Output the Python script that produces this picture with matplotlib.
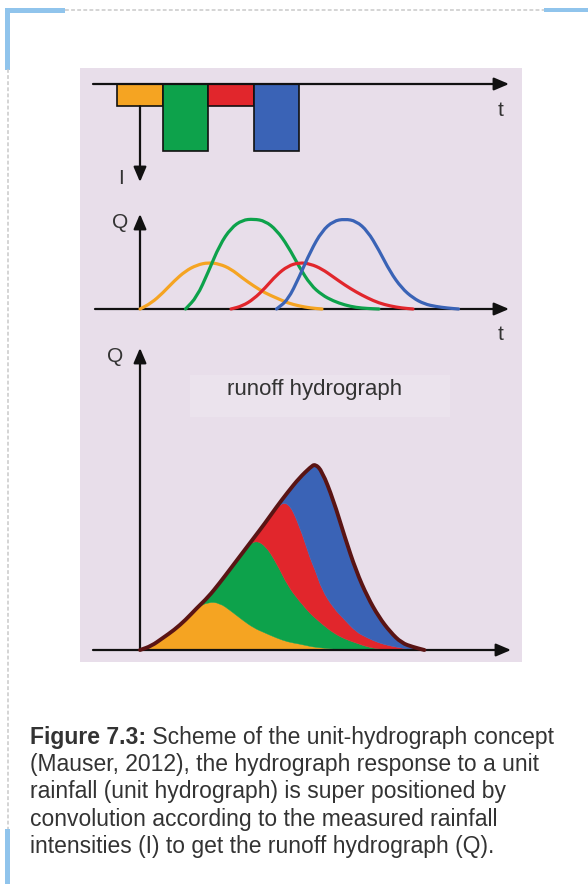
import numpy as np
import matplotlib.pyplot as plt
from matplotlib.patches import Rectangle, PathPatch
from matplotlib.path import Path

# ---------------------------------------------------------
# Unit hydrograph scheme: rainfall blocks -> unit responses -> runoff
# ---------------------------------------------------------

# rainfall blocks (time in units of one rainfall interval)
rain_t = [0, 1, 2, 3]
rain_i = [1.0, 3.0, 1.0, 3.0]
colors = ["#F5A422", "#0DA24B", "#E1262C", "#3A63B6"]

# single responses (middle panel)
orange_t = [0, 0.25, 0.5, 0.75, 1.0, 1.25, 1.5, 1.75, 2.0, 2.25, 2.5, 2.75, 3.0, 3.25, 3.5, 3.75, 4.0]
orange_q = [0, 6, 16, 28, 38, 44, 46.5, 45, 40, 31, 23, 16, 11, 6, 3, 1, 0]
green_t = [1.0, 1.25, 1.5, 1.75, 2.0, 2.25, 2.5, 2.75, 3.0, 3.25, 3.5, 3.75, 4.0, 4.25, 4.5, 4.75, 5.0, 5.25]
green_q = [0, 12, 37, 64, 81, 89, 90, 88, 79, 63, 42, 24, 14, 8, 4, 1.5, 0.5, 0]
red_t = [2.0, 2.25, 2.5, 2.75, 3.0, 3.25, 3.5, 3.75, 4.0, 4.25, 4.5, 4.75, 5.0, 5.25, 5.5, 5.75, 6.0]
red_q = [0, 3, 10, 21, 34, 43, 46.5, 45, 40, 32, 24, 17, 11, 6, 3, 1, 0]
blue_t = [3.0, 3.25, 3.5, 3.75, 4.0, 4.25, 4.5, 4.75, 5.0, 5.25, 5.5, 5.75, 6.0, 6.25, 6.5, 6.75, 7.0]
blue_q = [0, 9, 32, 58, 78, 88, 90, 88, 78, 59, 37, 21, 11, 5, 2.5, 1, 0]

# runoff hydrograph (bottom panel), cumulative layer tops
runoff_t = [0, 0.25, 0.5, 0.75, 1.0, 1.25, 1.5, 1.75, 2.0, 2.25, 2.5, 2.75, 3.0, 3.25,
            3.5, 3.75, 3.85, 4.0, 4.25, 4.5, 4.75, 5.0, 5.25, 5.5, 5.75, 6.0, 6.25]
top_orange = [0, 4, 12, 20, 30, 42, 48, 47, 39, 30, 22, 17, 12, 8, 6, 3.5, 2.8, 2, 1, 0, 0, 0, 0, 0, 0, 0, 0]
top_green = [0, 4, 12, 20, 30, 42, 53, 67, 82, 97, 110, 105, 87, 64, 49, 36, 32, 26, 17, 11, 7, 3, 1, 0, 0, 0, 0]
top_red = [0, 4, 12, 20, 30, 42, 53, 67, 82, 97, 112, 127, 143, 149, 125, 90, 80, 60, 42, 30, 18, 12, 7, 4, 2, 0, 0]
top_total = [0, 4, 12, 20, 30, 42, 53, 67, 82, 97, 112, 127, 143, 158, 172, 183, 186, 179, 150, 113, 79, 53, 33, 18, 7, 3, 0]

caption_lines = [
    "(Mauser, 2012), the hydrograph response to a unit",
    "rainfall (unit hydrograph) is super positioned by",
    "convolution according to the measured rainfall",
    "intensities (I) to get the runoff hydrograph (Q).",
]

W, H = 588, 884
fig = plt.figure(figsize=(W / 100, H / 100), dpi=100)
fig.patch.set_facecolor("white")

# pixel canvas for frame, panel and caption
base = fig.add_axes([0, 0, 1, 1])
base.set_xlim(0, W)
base.set_ylim(H, 0)
base.axis("off")

frame_blue = "#90C4EC"
dash_grey = "#C9C9C9"
base.plot([65, 544], [10, 10], color=dash_grey, lw=1.1, dashes=(2.5, 1.5))
base.plot([7.5, 7.5], [69, 829], color=dash_grey, lw=1.1, dashes=(2.5, 1.5))
base.add_patch(Rectangle((5, 7.5), 60, 5, color=frame_blue, lw=0))
base.add_patch(Rectangle((5, 7.5), 5, 62, color=frame_blue, lw=0))
base.add_patch(Rectangle((544, 7.5), 44, 4.5, color=frame_blue, lw=0))
base.add_patch(Rectangle((5, 829), 5, 55, color=frame_blue, lw=0))

# lavender picture panel
base.add_patch(Rectangle((80, 68), 442, 594, color="#E8DEEA", lw=0))
base.add_patch(Rectangle((190, 375), 260, 42, color="#EBE3ED", lw=0))

T0, TU = 140.0, 45.5  # pixel of t=0 and pixels per time unit
XL = ((80 - T0) / TU, (522 - T0) / TU)


def px_axes(y0, y1):
    ax = fig.add_axes([80 / W, 1 - y1 / H, 442 / W, (y1 - y0) / H])
    ax.set_xlim(*XL)
    ax.axis("off")
    ax.patch.set_alpha(0)
    return ax


def tx(x):
    return (x - T0) / TU


def smooth(x, y, first=Path.MOVETO):
    # quadratic b-spline path using the read points as control points
    p = np.column_stack([x, y]).astype(float)
    mid = (p[:-1] + p[1:]) / 2
    verts = [p[0], mid[0]]
    codes = [first, Path.LINETO]
    for i in range(1, len(p) - 1):
        verts += [p[i], mid[i]]
        codes += [Path.CURVE3, Path.CURVE3]
    verts.append(p[-1])
    codes.append(Path.LINETO)
    return verts, codes


def smooth_line(ax, x, y, **kw):
    v, c = smooth(x, y)
    ax.add_patch(PathPatch(Path(v, c), fill=False, **kw))


def smooth_band(ax, x, lo, hi, color):
    v1, c1 = smooth(x, hi)
    v2, c2 = smooth(x[::-1], lo[::-1], first=Path.LINETO)
    v = v1 + v2 + [v1[0]]
    c = c1 + c2 + [Path.CLOSEPOLY]
    ax.add_patch(PathPatch(Path(v, c), facecolor=color, edgecolor=color, lw=0.3, zorder=2))


def arrow(ax, x0, y0, x1, y1):
    ax.annotate("", xy=(x1, y1), xytext=(x0, y0), annotation_clip=False,
                arrowprops=dict(arrowstyle="-|>,head_length=0.75,head_width=0.32",
                                color="#111111", lw=1.6, shrinkA=0, shrinkB=0,
                                mutation_scale=12))


lab = dict(family="Liberation Sans", fontsize=15, color="#333333", ha="center", va="center")

# --- top: rainfall intensities ---
IU = 22.3
ax1 = px_axes(68, 200)
ax1.set_ylim((200 - 84) / IU, (68 - 84) / IU)
ax1.bar(rain_t, rain_i, width=1.0, color=colors, edgecolor="#111111", linewidth=1.2, zorder=2)
arrow(ax1, tx(93), 0, tx(509), 0)
arrow(ax1, 0, rain_i[0], 0, (182 - 84) / IU)
ax1.text(tx(501), (110 - 84) / IU, "t", **lab)
ax1.text(tx(121), (178 - 84) / IU, "I", **lab)

# --- middle: unit hydrographs ---
ax2 = px_axes(200, 345)
ax2.set_ylim(-(345 - 309), 309 - 200)
arrow(ax2, tx(95), 0, tx(509), 0)
arrow(ax2, 0, 0, 0, 309 - 214)
for tt, qq, c in zip([orange_t, green_t, red_t, blue_t],
                     [orange_q, green_q, red_q, blue_q], colors):
    smooth_line(ax2, tt, qq, edgecolor=c, lw=2.3, capstyle="round", zorder=3)
ax2.text(tx(120), 309 - 222, "Q", **lab)
ax2.text(tx(501), 309 - 334, "t", **lab)

# --- bottom: runoff hydrograph ---
ax3 = px_axes(345, 662)
ax3.set_ylim(-(662 - 650), 650 - 345)
rt = np.array(runoff_t)
layers = [np.zeros(len(rt)), np.array(top_orange), np.array(top_green),
          np.array(top_red), np.array(top_total)]
for i, c in enumerate(colors):
    smooth_band(ax3, rt, layers[i], layers[i + 1], c)
arrow(ax3, tx(93), 0, tx(511), 0)
arrow(ax3, 0, 0, 0, 650 - 348)
smooth_line(ax3, rt, layers[-1], edgecolor="#5A1414", lw=2.8, joinstyle="round",
            capstyle="round", zorder=4)
ax3.text(tx(115), 650 - 357, "Q", **lab)
ax3.text(tx(315), 650 - 390, "runoff hydrograph", family="Liberation Sans",
         fontsize=16, color="#333333", ha="center", va="center")

# --- caption ---
cap_col = "#333333"
cap_font = "Liberation Sans"
r = fig.canvas.get_renderer()
fs = 14.0
t_b = base.text(30, 744, "Figure 7.3:", family=cap_font, fontweight="bold",
                fontsize=fs, color=cap_col, va="baseline")
t_r = base.text(30, 744, " Scheme of the unit-hydrograph concept", family=cap_font,
                fontsize=fs, color=cap_col, va="baseline")
wb = t_b.get_window_extent(r).width
wr = t_r.get_window_extent(r).width
fs = fs * 526.0 / (wb + wr)
t_b.set_fontsize(fs)
t_r.set_fontsize(fs)
wb = t_b.get_window_extent(r).width
t_r.set_x(30 + wb)
for k, line in enumerate(caption_lines):
    base.text(30, 744 + 27.2 * (k + 1), line, family=cap_font, fontsize=fs,
              color=cap_col, va="baseline")

fig.savefig("out.png", dpi=100)
